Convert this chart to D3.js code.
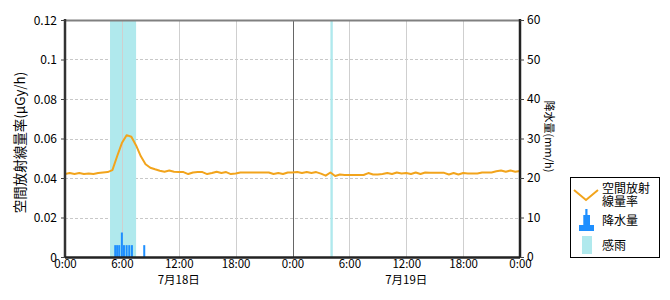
<!DOCTYPE html>
<html>
<head>
<meta charset="utf-8">
<script src="https://cdn.jsdelivr.net/npm/d3@7"></script>
<style>
  body { margin: 0; background: #fff; }
  text { font-family: "Noto Sans CJK JP", "Noto Sans", sans-serif; fill: #000; }
</style>
</head>
<body>
<svg class="viz" width="670" height="300"></svg>
<script>
// dose rate, every 30 min from 7/18 0:00 (uGy/h)
var doseStart = 0, doseStep = 0.5;
var doseValues = [
  0.0420, 0.0425, 0.0420, 0.0425, 0.0420, 0.0423, 0.0420, 0.0425, 0.0428, 0.0430,
  0.0440, 0.0510, 0.0577, 0.0617, 0.0609, 0.0565, 0.0510, 0.0470, 0.0452, 0.0444, 0.0437, 0.0432, 0.0438, 0.0432,
  0.0430, 0.0430, 0.0420, 0.0428, 0.0430, 0.0430, 0.0420, 0.0425, 0.0432, 0.0425, 0.0430, 0.0420,
  0.0423, 0.0428, 0.0428, 0.0428, 0.0428, 0.0428, 0.0428, 0.0428, 0.0420, 0.0425, 0.0420, 0.0428,
  0.0428, 0.0430, 0.0425, 0.0430, 0.0425, 0.0430, 0.0422, 0.0412, 0.0428, 0.0410, 0.0418, 0.0415,
  0.0415, 0.0415, 0.0415, 0.0415, 0.0425, 0.0418, 0.0418, 0.0420, 0.0425, 0.0420, 0.0428, 0.0423,
  0.0425, 0.0420, 0.0428, 0.0420, 0.0428, 0.0426, 0.0426, 0.0426, 0.0426, 0.0418, 0.0425, 0.0418,
  0.0425, 0.0423, 0.0423, 0.0423, 0.0428, 0.0428, 0.0428, 0.0434, 0.0438, 0.0432, 0.0438, 0.0432, 0.0436
];

// precipitation (hours from 7/18 0:00, mm/h)
var rainHours = [5.3, 5.5, 5.72, 6.0, 6.22, 6.5, 6.78, 7.06, 8.36];
var rainValues = [3, 3, 3, 6.2, 3, 3, 3, 3, 3];

// rain sensor on (start hour, end hour)
var senseStart = [4.75, 28.0];
var senseEnd = [7.5, 28.25];

var xTickHours = [0, 6, 12, 18, 24, 30, 36, 42, 48];
var xTickLabels = ["0:00", "6:00", "12:00", "18:00", "0:00", "6:00", "12:00", "18:00", "0:00"];
var dateHours = [12, 36];
var dateLabels = ["7月18日", "7月19日"];
var doseTicks = [0, 0.02, 0.04, 0.06, 0.08, 0.1, 0.12];
var doseTickLabels = ["0", "0.02", "0.04", "0.06", "0.08", "0.1", "0.12"];
var rainTicks = [0, 10, 20, 30, 40, 50, 60];
var rainTickLabels = ["0", "10", "20", "30", "40", "50", "60"];

var svg = d3.select(".viz"),
    margin = {top: 20, right: 150, bottom: 43, left: 65},
    width = +svg.attr("width") - margin.left - margin.right,
    height = +svg.attr("height") - margin.top - margin.bottom;

var orange = "#f2a41c", blue = "#1e8fff", cyan = "#b0e9ed";

var x = d3.scaleLinear().domain([0, 48]).range([margin.left, margin.left + width]);
var yDose = d3.scaleLinear().domain([0, 0.12]).range([margin.top + height, margin.top]);
var yRain = d3.scaleLinear().domain([0, 60]).range([margin.top + height, margin.top]);

var plotL = margin.left, plotR = margin.left + width,
    plotT = margin.top, plotB = margin.top + height;

// horizontal grid
svg.append("g").selectAll("line")
  .data(doseTicks.slice(1, -1))
  .enter().append("line")
    .attr("x1", plotL).attr("x2", plotR)
    .attr("y1", function (d) { return Math.round(yDose(d)) + 0.5; })
    .attr("y2", function (d) { return Math.round(yDose(d)) + 0.5; })
    .style("stroke", "#c8c8c8")
    .style("stroke-dasharray", "3,2");

// rain sensing bands
svg.append("g").selectAll("rect")
  .data(senseStart)
  .enter().append("rect")
    .attr("x", function (d) { return x(d); })
    .attr("y", plotT)
    .attr("width", function (d, i) { return x(senseEnd[i]) - x(d); })
    .attr("height", height)
    .attr("fill", cyan);

// vertical grid
svg.append("g").selectAll("line")
  .data(xTickHours.slice(1, -1))
  .enter().append("line")
    .attr("x1", function (d) { return Math.round(x(d)) + 0.5; })
    .attr("x2", function (d) { return Math.round(x(d)) + 0.5; })
    .attr("y1", plotT).attr("y2", plotB)
    .style("stroke", function (d) { return d === 24 ? "#666" : "#cfcfcf"; })
    .style("stroke-width", "1px");

// precipitation bars
svg.append("g").selectAll("rect")
  .data(rainValues)
  .enter().append("rect")
    .attr("x", function (d, i) { return x(rainHours[i]) - 1; })
    .attr("y", function (d) { return yRain(d); })
    .attr("width", 2)
    .attr("height", function (d) { return plotB - yRain(d); })
    .attr("fill", blue);

// dose rate line
var line = d3.line()
  .x(function (d, i) { return x(doseStart + i * doseStep); })
  .y(function (d) { return yDose(d); });

svg.append("path")
  .datum(doseValues)
  .attr("d", line)
  .attr("fill", "none")
  .style("stroke", orange)
  .style("stroke-width", "2px")
  .style("stroke-linejoin", "round");

// frame
svg.append("line").attr("x1", plotL).attr("x2", plotR).attr("y1", plotT + 0.5).attr("y2", plotT + 0.5)
  .style("stroke", "#808080").style("stroke-width", "2px");
svg.append("line").attr("x1", plotL).attr("x2", plotL).attr("y1", plotT - 1).attr("y2", plotB + 1)
  .style("stroke", "#333").style("stroke-width", "2.5px");
svg.append("line").attr("x1", plotR).attr("x2", plotR).attr("y1", plotT - 1).attr("y2", plotB + 1)
  .style("stroke", "#222").style("stroke-width", "2.5px");
svg.append("line").attr("x1", plotL).attr("x2", plotR).attr("y1", plotB + 0.5).attr("y2", plotB + 0.5)
  .style("stroke", "#222").style("stroke-width", "2.5px");

// axes
var yAxisL = d3.axisLeft(yDose).tickValues(doseTicks).tickSize(4).tickPadding(4)
  .tickFormat(function (d, i) { return doseTickLabels[i]; });
var gL = svg.append("g").attr("transform", "translate(" + plotL + ",0)").call(yAxisL);

var yAxisR = d3.axisRight(yRain).tickValues(rainTicks).tickSize(4).tickPadding(3)
  .tickFormat(function (d, i) { return rainTickLabels[i]; });
var gR = svg.append("g").attr("transform", "translate(" + plotR + ",0)").call(yAxisR);

var xAxis = d3.axisBottom(x).tickValues(xTickHours).tickSize(0).tickPadding(3)
  .tickFormat(function (d, i) { return xTickLabels[i]; });
var gX = svg.append("g").attr("transform", "translate(0," + plotB + ")").call(xAxis);

[gL, gR, gX].forEach(function (g) {
  g.select(".domain").remove();
  g.selectAll("line").style("stroke", "#444");
  g.selectAll("text").attr("font-size", "12px").attr("font-family", null).style("fill", "#000");
});
gL.selectAll("text").attr("dy", "0.35em");
gX.selectAll("text").attr("dy", "0.71em").attr("font-size", "11.5px");

svg.append("g").selectAll("text")
  .data(dateLabels)
  .enter().append("text")
    .attr("x", function (d, i) { return x(dateHours[i]); })
    .attr("y", 284)
    .attr("text-anchor", "middle")
    .attr("font-size", "11.5px")
    .text(function (d) { return d; });

// axis titles
svg.append("text")
  .attr("transform", "translate(25," + (plotT + height / 2 + 4) + ") rotate(-90)")
  .attr("text-anchor", "middle")
  .attr("font-size", "13.5px")
  .text("空間放射線量率(μGy/h)");

svg.append("text")
  .attr("transform", "translate(545," + (plotT + height / 2 - 2) + ") rotate(90)")
  .attr("text-anchor", "middle")
  .attr("font-size", "11px")
  .text("降水量(mm/h)");

// legend
var lg = svg.append("g");
lg.append("rect").attr("x", 570.5).attr("y", 177.5).attr("width", 89).attr("height", 80)
  .attr("fill", "#fff").style("stroke", "#000").style("stroke-width", "1px");
lg.append("polyline").attr("points", "574,190 586,200 598,190")
  .attr("fill", "none").style("stroke", orange).style("stroke-width", "2px");
lg.append("path").attr("d", "M579,231H594V225H590V215H587.5V209H585.3V215H583.3V225H579Z").attr("fill", blue);
lg.append("rect").attr("x", 582).attr("y", 236).attr("width", 10).attr("height", 18).attr("fill", cyan);

var legendText = [["空間放射", 192.5], ["線量率", 205.5], ["降水量", 225], ["感雨", 250]];
lg.selectAll("text.lt")
  .data(legendText)
  .enter().append("text")
    .attr("class", "lt")
    .attr("x", 602)
    .attr("y", function (d) { return d[1]; })
    .attr("font-size", "12px")
    .text(function (d) { return d[0]; });
</script>
</body>
</html>
